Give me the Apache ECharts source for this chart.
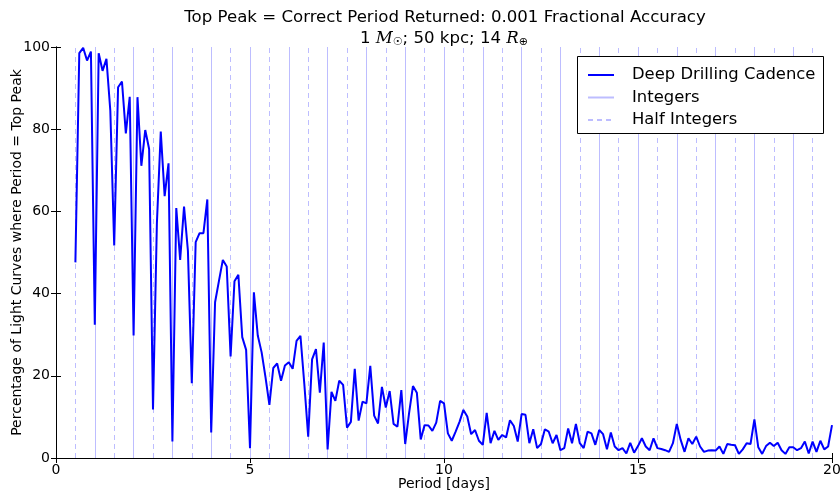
<!DOCTYPE html>
<html>
<head>
<meta charset="utf-8">
<script src="https://cdn.jsdelivr.net/npm/echarts@6/dist/echarts.min.js"></script>
<style>
  html, body { margin: 0; padding: 0; background: #fff; }
</style>
</head>
<body>
<!-- chart container -->
<div id="main" style="width: 840px; height: 492px;"></div>
<script>
// period grid [days]
var periods = [
  0.5, 0.6, 0.7, 0.8, 0.9, 1.0, 1.1, 1.2, 1.3, 1.4, 1.5, 1.6, 1.7, 1.8, 1.9,
  2.0, 2.1, 2.2, 2.3, 2.4, 2.5, 2.6, 2.7, 2.8, 2.9, 3.0, 3.1, 3.2, 3.3, 3.4,
  3.5, 3.6, 3.7, 3.8, 3.9, 4.0, 4.1, 4.2, 4.3, 4.4, 4.5, 4.6, 4.7, 4.8, 4.9,
  5.0, 5.1, 5.2, 5.3, 5.4, 5.5, 5.6, 5.7, 5.8, 5.9, 6.0, 6.1, 6.2, 6.3, 6.4,
  6.5, 6.6, 6.7, 6.8, 6.9, 7.0, 7.1, 7.2, 7.3, 7.4, 7.5, 7.6, 7.7, 7.8, 7.9,
  8.0, 8.1, 8.2, 8.3, 8.4, 8.5, 8.6, 8.7, 8.8, 8.9, 9.0, 9.1, 9.2, 9.3, 9.4,
  9.5, 9.6, 9.7, 9.8, 9.9, 10.0, 10.1, 10.2, 10.3, 10.4, 10.5, 10.6, 10.7, 10.8, 10.9,
  11.0, 11.1, 11.2, 11.3, 11.4, 11.5, 11.6, 11.7, 11.8, 11.9, 12.0, 12.1, 12.2, 12.3, 12.4,
  12.5, 12.6, 12.7, 12.8, 12.9, 13.0, 13.1, 13.2, 13.3, 13.4, 13.5, 13.6, 13.7, 13.8, 13.9,
  14.0, 14.1, 14.2, 14.3, 14.4, 14.5, 14.6, 14.7, 14.8, 14.9, 15.0, 15.1, 15.2, 15.3, 15.4,
  15.5, 15.6, 15.7, 15.8, 15.9, 16.0, 16.1, 16.2, 16.3, 16.4, 16.5, 16.6, 16.7, 16.8, 16.9,
  17.0, 17.1, 17.2, 17.3, 17.4, 17.5, 17.6, 17.7, 17.8, 17.9, 18.0, 18.1, 18.2, 18.3, 18.4,
  18.5, 18.6, 18.7, 18.8, 18.9, 19.0, 19.1, 19.2, 19.3, 19.4, 19.5, 19.6, 19.7, 19.8, 19.9,
  20.0
];

// % of light curves where period = top peak (deep drilling cadence)
var topPeakPct = [
  47.6, 98.5, 99.8, 96.7, 98.9, 32.4, 98.5, 94.2, 97.1, 84.5, 51.7, 90.2, 91.6, 79.0, 87.9,
  29.8, 87.8, 71.1, 79.8, 75.2, 11.8, 57.0, 79.4, 63.7, 71.7, 4.0, 60.8, 48.2, 61.2, 50.4,
  18.2, 52.5, 54.7, 54.7, 62.9, 6.2, 37.9, 43.1, 48.2, 46.6, 24.7, 43.0, 44.6, 29.4, 26.3,
  2.4, 40.3, 29.8, 25.7, 19.6, 12.9, 21.9, 23.0, 18.8, 22.5, 23.3, 21.7, 28.5, 29.7, 18.0,
  5.2, 24.0, 26.5, 15.9, 28.1, 2.1, 16.1, 13.9, 18.8, 17.8, 7.4, 8.8, 21.7, 9.1, 13.7,
  13.3, 22.4, 10.3, 8.4, 17.3, 12.3, 16.3, 8.3, 7.6, 16.5, 3.4, 10.9, 17.5, 15.9, 4.5,
  8.0, 7.9, 6.6, 8.6, 13.9, 13.3, 6.0, 4.2, 6.4, 8.8, 11.7, 10.1, 5.8, 6.8, 4.2,
  3.2, 11.0, 3.6, 6.6, 4.4, 5.6, 5.0, 9.2, 7.8, 4.0, 10.7, 10.5, 3.6, 7.0, 2.4,
  3.4, 7.0, 6.4, 3.6, 5.6, 1.9, 2.4, 7.2, 3.6, 8.3, 3.6, 2.4, 6.4, 6.0, 3.2,
  6.8, 5.8, 2.1, 6.2, 2.8, 1.9, 2.4, 1.1, 3.7, 1.3, 2.9, 4.8, 2.8, 1.9, 4.8,
  2.4, 2.2, 1.9, 1.5, 3.6, 8.3, 4.4, 1.5, 4.8, 3.4, 5.2, 2.8, 1.5, 1.8, 1.9,
  1.8, 2.8, 1.0, 3.4, 3.2, 3.1, 1.0, 2.1, 3.6, 3.4, 9.4, 2.6, 1.0, 2.9, 3.7,
  2.9, 3.7, 1.9, 1.0, 2.6, 2.6, 1.9, 2.4, 4.0, 1.1, 4.0, 1.5, 4.2, 2.1, 2.8,
  8.0
];

// reference lines
var integerDays = [1, 2, 3, 4, 5, 6, 7, 8, 9, 10, 11, 12, 13, 14, 15, 16, 17, 18, 19];
var halfIntegerDays = [0.5, 1.5, 2.5, 3.5, 4.5, 5.5, 6.5, 7.5, 8.5, 9.5,
  10.5, 11.5, 12.5, 13.5, 14.5, 15.5, 16.5, 17.5, 18.5, 19.5];

var xTicks = { min: 0, max: 20, interval: 5 };
var yTicks = { min: 0, max: 100, interval: 20 };

var FONT = 'DejaVu Sans';
var refColor = '#bdbdff';

var lineData = periods.map(function (p, i) { return [p, topPeakPct[i]]; });

function frameAxis(extra) {
  var base = {
    type: 'value',
    axisLine: { show: true, lineStyle: { color: '#000', width: 1 } },
    axisTick: { show: true, inside: true, length: 5, lineStyle: { color: '#000' } },
    splitLine: { show: false },
    axisLabel: { show: false }
  };
  return Object.assign(base, extra);
}

var chart = echarts.init(document.getElementById('main'));
chart.setOption({
  animation: false,
  textStyle: { fontFamily: FONT },
  title: [
    {
      text: 'Top Peak = Correct Period Returned: 0.001 Fractional Accuracy',
      left: 440, top: 4, textAlign: 'center',
      textStyle: { fontFamily: FONT, fontSize: 16.6, fontWeight: 'normal', color: '#000' }
    },
    {
      text: '1 {m|M}{s|☉}; 50 kpc; 14 {m|R}{s|⊕}',
      left: 439, top: 24, textAlign: 'center',
      textStyle: {
        fontFamily: FONT, fontSize: 16.6, fontWeight: 'normal', color: '#000',
        rich: {
          m: { fontFamily: 'DejaVu Serif', fontStyle: 'italic', fontSize: 16.6, color: '#000' },
          s: { fontFamily: FONT, fontSize: 11, color: '#000', padding: [8, 0, 0, 0] }
        }
      }
    }
  ],
  // legend frame (drawn separately so its size matches the reference)
  graphic: [
    {
      type: 'rect',
      left: 577, top: 56, z: 11,
      shape: { width: 246, height: 77 },
      style: { fill: '#fff', stroke: '#000', lineWidth: 1 }
    }
  ],
  legend: {
    orient: 'vertical',
    left: 577, top: 56, z: 12,
    padding: [11, 0, 8, 10],
    itemGap: 6.5,
    itemWidth: 26,
    itemHeight: 16,
    backgroundColor: 'transparent',
    borderWidth: 0,
    itemStyle: { opacity: 0 },
    textStyle: { fontFamily: FONT, fontSize: 16.4, color: '#000', padding: [0, 0, 0, 13] },
    data: ['Deep Drilling Cadence', 'Integers', 'Half Integers']
  },
  grid: { left: 56, right: 8, top: 47, bottom: 34, outerBoundsMode: 'none' },
  xAxis: [
    frameAxis({
      min: xTicks.min, max: xTicks.max, interval: xTicks.interval,
      position: 'bottom',
      name: 'Period [days]', nameLocation: 'middle', nameGap: 19,
      nameMoveOverlap: false,
      nameTextStyle: { fontFamily: FONT, fontSize: 14, color: '#000' },
      axisLabel: { show: true, margin: 5, fontFamily: FONT, fontSize: 14, color: '#000' }
    }),
    frameAxis({ min: xTicks.min, max: xTicks.max, interval: xTicks.interval, position: 'top' })
  ],
  yAxis: [
    frameAxis({
      min: yTicks.min, max: yTicks.max, interval: yTicks.interval,
      position: 'left',
      name: 'Percentage of Light Curves where Period = Top Peak',
      nameLocation: 'middle', nameGap: 32,
      nameMoveOverlap: false,
      nameTextStyle: { fontFamily: FONT, fontSize: 14, color: '#000' },
      axisLabel: { show: true, margin: 6, fontFamily: FONT, fontSize: 14, color: '#000' }
    }),
    frameAxis({ min: yTicks.min, max: yTicks.max, interval: yTicks.interval, position: 'right' })
  ],
  series: [
    {
      name: 'Integers',
      type: 'line',
      data: [],
      symbol: 'none',
      lineStyle: { color: refColor, width: 1, type: 'solid' },
      itemStyle: { color: refColor },
      markLine: {
        silent: true,
        symbol: 'none',
        label: { show: false },
        lineStyle: { color: refColor, width: 1, type: 'solid' },
        data: integerDays.map(function (d) { return { xAxis: d }; })
      }
    },
    {
      name: 'Half Integers',
      type: 'line',
      data: [],
      symbol: 'none',
      lineStyle: { color: refColor, width: 1, type: [5, 4] },
      itemStyle: { color: refColor },
      markLine: {
        silent: true,
        symbol: 'none',
        label: { show: false },
        lineStyle: { color: refColor, width: 1, type: [5, 4] },
        data: halfIntegerDays.map(function (d) { return { xAxis: d }; })
      }
    },
    {
      name: 'Deep Drilling Cadence',
      type: 'line',
      data: lineData,
      symbol: 'none',
      z: 5,
      lineStyle: { color: '#0000ff', width: 2 },
      itemStyle: { color: '#0000ff' }
    }
  ]
});
</script>
</body>
</html>
